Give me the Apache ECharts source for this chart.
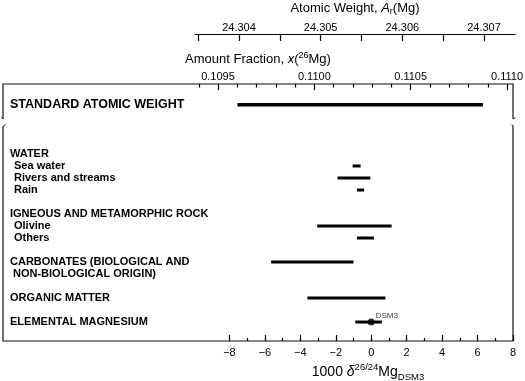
<!DOCTYPE html>
<html>
<head>
<meta charset="utf-8">
<script src="https://cdn.jsdelivr.net/npm/echarts@6/dist/echarts.min.js"></script>
<style>
  html, body { margin: 0; padding: 0; background: #fff; }
  #chart { width: 525px; height: 381px; }
</style>
</head>
<body>
<div id="chart"></div>
<script>
// row labels down the left side, with their position on the row scale
const rowNames = ['STANDARD ATOMIC WEIGHT', 'WATER', 'Sea water', 'Rivers and streams', 'Rain',
  'IGNEOUS AND METAMORPHIC ROCK', 'Olivine', 'Others', 'CARBONATES (BIOLOGICAL AND',
  'NON-BIOLOGICAL ORIGIN)', 'ORGANIC MATTER', 'ELEMENTAL MAGNESIUM'];
const rowPos = [7.9, 12, 13, 14, 15, 17, 18, 19, 21, 22, 24, 26];
const rowKind = ['big', 'h', 's', 's', 's', 'h', 's', 's', 'h', 'hi', 'h', 'h'];

// ranges in 1000 delta26/24Mg (DSM3)
const rangeRow = [7.9, 13, 14, 15, 18, 19, 21, 24, 26];
const rangeLow = [-7.55, -1.05, -1.9, -0.8, -3.05, -0.8, -5.65, -3.6, -0.9];
const rangeHigh = [6.3, -0.6, -0.05, -0.4, 1.15, 0.15, -1.0, 0.8, 0.6];
const refPoint = [0, 26];
const refName = 'DSM3';

// tick values
const deltaMajor = [-8, -6, -4, -2, 0, 2, 4, 6, 8];
const deltaMinor = [-7, -5, -3, -1, 1, 3, 5, 7];
const fracMajor = [0.1095, 0.1100, 0.1105, 0.1110];
const fracMinor = [0.1094, 0.1096, 0.1097, 0.1098, 0.1099, 0.1101, 0.1102,
  0.1103, 0.1104, 0.1106, 0.1107, 0.1108, 0.1109];
const weightTicks = [24.3035, 24.3040, 24.3045, 24.3050, 24.3055, 24.3060, 24.3065, 24.3070];
const weightLabels = [24.304, 24.305, 24.306, 24.307];

const font = 'Liberation Sans, Arial, sans-serif';

const chart = echarts.init(document.getElementById('chart'));

const rangeData = rangeRow.map((r, i) => [rangeLow[i], rangeHigh[i], r]);

function tickAxis(extra) {
  return Object.assign({
    type: 'value',
    axisLine: { show: false },
    axisLabel: { show: false },
    splitLine: { show: false }
  }, extra);
}

const option = {
  animation: false,
  textStyle: { fontFamily: font, color: '#000' },
  grid: [
    { left: 3, right: 12, top: 84, bottom: 40, show: true, borderColor: '#111', borderWidth: 1.2, outerBoundsMode: 'none' },
    { left: 195, right: 10, top: 33, height: 1, outerBoundsMode: 'none' }
  ],
  xAxis: [
    tickAxis({
      gridIndex: 0, position: 'bottom', min: -20.78, max: 8,
      axisTick: { show: true, inside: true, length: 6, customValues: deltaMajor, lineStyle: { color: '#000', width: 1.2 } },
      axisLabel: {
        customValues: deltaMajor, margin: 6, fontSize: 11, color: '#000', fontFamily: font,
        formatter: v => String(v).replace('-', '\u2212')
      }
    }),
    tickAxis({
      gridIndex: 0, position: 'bottom', min: -20.78, max: 8,
      axisTick: { show: true, inside: true, length: 3, customValues: deltaMinor, lineStyle: { color: '#000', width: 1.2 } }
    }),
    tickAxis({
      gridIndex: 0, position: 'top', min: 0.108384, max: 0.111031,
      axisTick: { show: true, inside: true, length: 6, customValues: fracMajor, lineStyle: { color: '#000', width: 1.2 } },
      axisLabel: {
        customValues: fracMajor, margin: 2, fontSize: 11, color: '#000', fontFamily: font,
        formatter: v => v.toFixed(4)
      },
      name: '{n|Amount Fraction, }{i|x}{n|(}{sup|26}{n|Mg)}',
      nameLocation: 'middle', nameGap: 14,
      nameTextStyle: {
        rich: {
          n: { fontSize: 13, fontFamily: font, color: '#000', lineHeight: 18 },
          i: { fontSize: 13, fontFamily: font, fontStyle: 'italic', color: '#000', lineHeight: 18 },
          sup: { fontSize: 9, fontFamily: font, color: '#000', verticalAlign: 'top', lineHeight: 10 }
        }
      }
    }),
    tickAxis({
      gridIndex: 0, position: 'top', min: 0.108384, max: 0.111031,
      axisTick: { show: true, inside: true, length: 3.5, customValues: fracMinor, lineStyle: { color: '#000', width: 1.2 } }
    }),
    tickAxis({
      gridIndex: 1, position: 'top', min: 24.303461, max: 24.30738,
      axisLine: { show: true, lineStyle: { color: '#000', width: 1.2 } },
      axisTick: { show: true, inside: true, length: 7, customValues: weightTicks, lineStyle: { color: '#000', width: 1.2 } },
      axisLabel: {
        customValues: weightLabels, margin: 0, fontSize: 11, color: '#000', fontFamily: font,
        formatter: v => v.toFixed(3)
      },
      name: '{n|Atomic Weight, }{i|A}{sub|r}{n|(Mg)}',
      nameLocation: 'middle', nameGap: 17,
      nameTextStyle: {
        rich: {
          n: { fontSize: 13, fontFamily: font, color: '#000', lineHeight: 16 },
          i: { fontSize: 13, fontFamily: font, fontStyle: 'italic', color: '#000', lineHeight: 16 },
          sub: { fontSize: 9, fontFamily: font, color: '#000', verticalAlign: 'bottom', lineHeight: 9 }
        }
      }
    })
  ],
  yAxis: [
    {
      gridIndex: 0, type: 'value', inverse: true, min: 6.17, max: 27.58,
      axisLine: { show: false },
      axisTick: { show: false },
      splitLine: { show: false },
      axisLabel: {
        inside: true, margin: 7, customValues: rowPos,
        formatter: v => {
          let k = 0;
          rowPos.forEach((p, i) => { if (Math.abs(p - v) < Math.abs(rowPos[k] - v)) k = i; });
          return '{' + rowKind[k] + '|' + rowNames[k] + '}';
        },
        rich: {
          big: { fontSize: 12.5, fontWeight: 'bold', fontFamily: font, color: '#000' },
          h: { fontSize: 11, fontWeight: 'bold', fontFamily: font, color: '#000' },
          hi: { fontSize: 11, fontWeight: 'bold', fontFamily: font, color: '#000', padding: [0, 0, 0, 3] },
          s: { fontSize: 11, fontWeight: 'bold', fontFamily: font, color: '#000', padding: [0, 0, 0, 4] }
        }
      }
    },
    { gridIndex: 1, type: 'value', show: false }
  ],
  series: [
    {
      type: 'custom', xAxisIndex: 0, yAxisIndex: 0,
      data: rangeData,
      encode: { x: [0, 1], y: 2 },
      renderItem: (params, api) => {
        const a = api.coord([api.value(0), api.value(2)]);
        const b = api.coord([api.value(1), api.value(2)]);
        return {
          type: 'line',
          shape: { x1: a[0], y1: a[1], x2: b[0], y2: b[1] },
          style: { stroke: '#000', lineWidth: params.dataIndex === 0 ? 3.4 : 3 }
        };
      }
    },
    {
      type: 'scatter', xAxisIndex: 0, yAxisIndex: 0,
      data: [refPoint],
      symbol: 'circle', symbolSize: 7,
      itemStyle: { color: '#000' },
      label: {
        show: true, formatter: refName, position: [8, -3], align: 'left', verticalAlign: 'middle',
        fontSize: 8, fontFamily: font, color: '#000'
      }
    }
  ],
  graphic: [
    // breaks in the frame
    { type: 'rect', z: 100, shape: { x: 0, y: 119, width: 7, height: 7 }, style: { fill: '#fff' } },
    { type: 'rect', z: 100, shape: { x: 510, y: 119, width: 8, height: 7 }, style: { fill: '#fff' } },
    { type: 'polyline', z: 101, shape: { points: [[1.5, 117.5], [3.6, 119]] }, style: { stroke: '#111', lineWidth: 1 } },
    { type: 'polyline', z: 101, shape: { points: [[3.6, 126], [5.5, 124.5]] }, style: { stroke: '#111', lineWidth: 1 } },
    { type: 'polyline', z: 101, shape: { points: [[513.5, 119], [515.5, 117.5]] }, style: { stroke: '#111', lineWidth: 1 } },
    { type: 'polyline', z: 101, shape: { points: [[511.5, 124.5], [513.5, 126]] }, style: { stroke: '#111', lineWidth: 1 } },
    {
      type: 'text', x: 368, y: 372, z: 100,
      style: {
        text: '{n|1000 }{i|\u03b4}{sup|26/24}{n|Mg}{sub|DSM3}',
        align: 'center', verticalAlign: 'middle',
        rich: {
          n: { fontSize: 14, fontFamily: font, fill: '#000', lineHeight: 20 },
          i: { fontSize: 14, fontFamily: font, fontStyle: 'italic', fill: '#000', lineHeight: 20 },
          sup: { fontSize: 9.5, fontFamily: font, fill: '#000', verticalAlign: 'top', lineHeight: 10 },
          sub: { fontSize: 9.5, fontFamily: font, fill: '#000', verticalAlign: 'bottom', lineHeight: 10 }
        }
      }
    }
  ]
};

chart.setOption(option);
</script>
</body>
</html>
